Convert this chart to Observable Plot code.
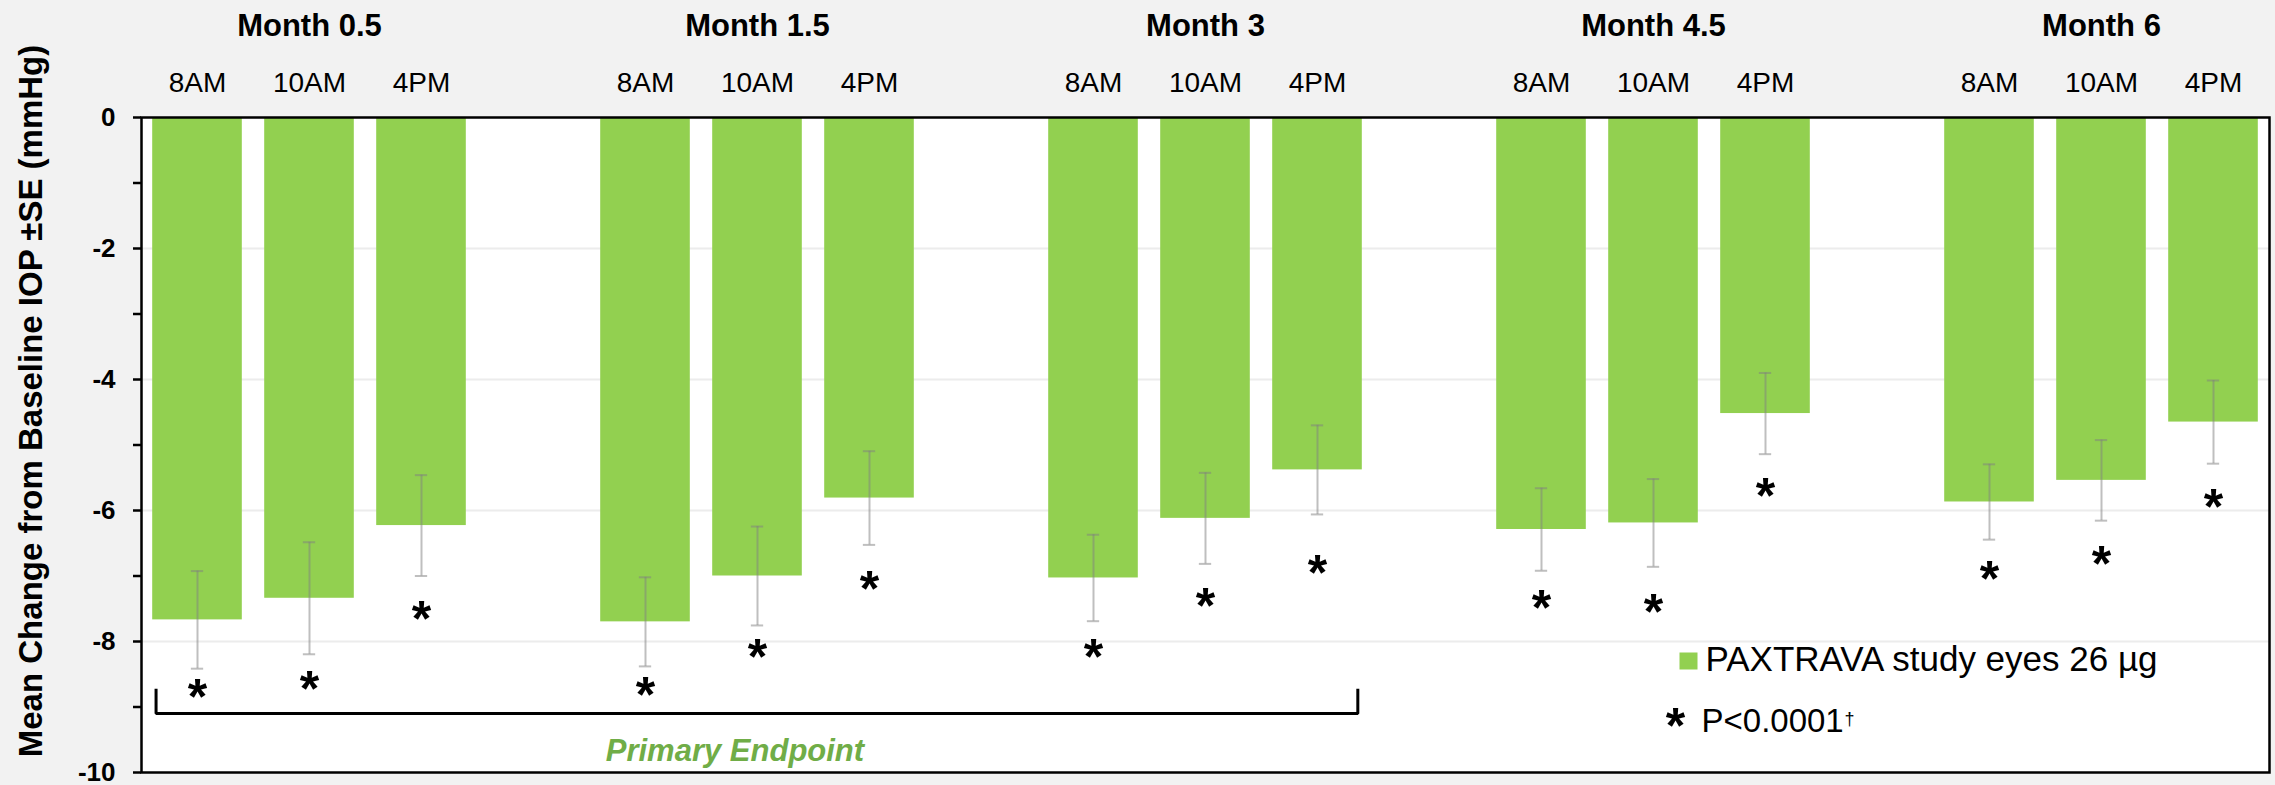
<!DOCTYPE html>
<html><head><meta charset="utf-8">
<script src="https://cdn.jsdelivr.net/npm/d3@7"></script>
<script src="https://cdn.jsdelivr.net/npm/@observablehq/plot@0.6"></script>
<style>
html,body{margin:0;padding:0;background:#f2f2f2;}
#chart svg{display:block;}
</style></head><body><div id="chart"></div>
<script>
// ---- data ----
const months = ["Month 0.5", "Month 1.5", "Month 3", "Month 4.5", "Month 6"];
const times = ["8AM", "10AM", "4PM"];
// mean change from baseline IOP (mmHg), rows = months, cols = times
const meanChange = [
  [-7.67, -7.34, -6.23],
  [-7.70, -7.00, -5.81],
  [-7.03, -6.12, -5.38],
  [-6.29, -6.19, -4.52],
  [-5.87, -5.54, -4.65]
];
// standard error
const standardError = [
  [0.745, 0.855, 0.77],
  [0.68, 0.755, 0.715],
  [0.66, 0.695, 0.68],
  [0.63, 0.67, 0.62],
  [0.575, 0.615, 0.635]
];
// level where the significance asterisk sits
const asteriskLevel = [
  [-8.70, -8.57, -7.50],
  [-8.67, -8.08, -7.04],
  [-8.09, -7.31, -6.80],
  [-7.34, -7.40, -5.62],
  [-6.90, -6.67, -5.80]
];
const yTicks = [-10, -9, -8, -7, -6, -5, -4, -3, -2, -1, 0];
const gridLevels = [-2, -4, -6, -8];
const primaryEndpointMonths = ["Month 0.5", "Month 1.5", "Month 3"];
const yLabel = "Mean Change from Baseline IOP \u00B1SE (mmHg)";
const legendLabel = "PAXTRAVA study eyes 26 \u00B5g";
const pLabel = "P<0.0001";

// ---- build table ----
const rows = [];
months.forEach((m, mi) => times.forEach((t, ti) => rows.push({
  month: m, time: t, slot: mi * 4 + ti,
  mean: meanChange[mi][ti], se: standardError[mi][ti], star: asteriskLevel[mi][ti]
})));
const slotLabel = new Map(rows.map(d => [d.slot, d.time]));

const FONT = "'Liberation Sans', Arial, sans-serif";
const green = "#92D050";
const half = 0.4, cap = 0.055;

const firstPE = months.indexOf(primaryEndpointMonths[0]) * 4;
const lastPE = months.indexOf(primaryEndpointMonths[primaryEndpointMonths.length - 1]) * 4 + 2;
const bx1 = firstPE - half + 0.03, bx2 = lastPE + half - 0.04;
const bracketTop = -8.72, bracketBottom = -9.10;
const bracket = [
  {x: bx1, y: bracketTop}, {x: bx1, y: bracketBottom},
  {x: bx2, y: bracketBottom}, {x: bx2, y: bracketTop}
];

const W = 2275, H = 785, ML = 141, MR = 6, MT = 117, MB = 13;

const chart = Plot.plot({
  width: W, height: H,
  marginLeft: ML, marginRight: MR, marginTop: MT, marginBottom: MB,
  style: {background: "#f2f2f2", fontFamily: FONT, color: "black", overflow: "visible"},
  x: {type: "linear", domain: [-0.5, 18.5]},
  y: {domain: [-10, 0]},
  marks: [
    Plot.frame({fill: "white", stroke: null}),
    Plot.ruleY(gridLevels, {stroke: "#ececec", strokeWidth: 2}),
    Plot.rect(rows, {x1: d => d.slot - half, x2: d => d.slot + half, y1: 0, y2: "mean", fill: green}),
    Plot.ruleX(rows, {x: "slot", y1: d => d.mean + d.se, y2: d => d.mean - d.se, stroke: "#808080", strokeOpacity: 0.5, strokeWidth: 2}),
    Plot.ruleY(rows, {y: d => d.mean + d.se, x1: d => d.slot - cap, x2: d => d.slot + cap, stroke: "#808080", strokeOpacity: 0.5, strokeWidth: 2}),
    Plot.ruleY(rows, {y: d => d.mean - d.se, x1: d => d.slot - cap, x2: d => d.slot + cap, stroke: "#808080", strokeOpacity: 0.5, strokeWidth: 2}),
    Plot.text(rows, {x: "slot", y: "star", text: () => "*", fontSize: 50, fontWeight: "bold", lineAnchor: "middle", dy: 11, fill: "black"}),
    Plot.line(bracket, {x: "x", y: "y", stroke: "black", strokeWidth: 3, strokeLinejoin: "miter", strokeLinecap: "butt"}),
    Plot.text(["Primary Endpoint"], {x: (bx1 + bx2) / 2, y: -9.817, dx: -22, fontSize: 31, fontWeight: "bold", fontStyle: "italic", fill: "#70AD47", lineAnchor: "bottom"}),
    Plot.axisX({anchor: "top", ticks: rows.map(d => d.slot), tickFormat: s => slotLabel.get(s) ?? "", tickSize: 0, tickPadding: 26, fontSize: 28, label: null}),
    Plot.axisY({ticks: yTicks, tickFormat: d => d % 2 === 0 ? String(d) : "", tickSize: 8, tickPadding: 18, fontSize: 26, fontWeight: "bold", strokeWidth: 2.5, label: null}),
    Plot.text(months, {x: (d, i) => i * 4 + 1, frameAnchor: "top", dy: -82, lineAnchor: "bottom", fontSize: 31, fontWeight: "bold"}),
    Plot.text([yLabel], {frameAnchor: "left", rotate: -90, dx: -109.6, dy: -44, fontSize: 33, fontWeight: "bold", lineAnchor: "middle", textAnchor: "middle"}),
    // legend
    Plot.frame({fill: green, stroke: null, insetLeft: 1679 - ML, insetRight: (W - MR) - 1697, insetTop: 652 - MT, insetBottom: (H - MB) - 669}),
    Plot.text([legendLabel], {frameAnchor: "top-left", dx: 1705 - ML, dy: 670.7 - MT, textAnchor: "start", lineAnchor: "bottom", fontSize: 35}),
    Plot.text(["*"], {frameAnchor: "top-left", dx: 1675 - ML, dy: 715 - MT + 11, textAnchor: "middle", lineAnchor: "middle", fontSize: 50, fontWeight: "bold"}),
    Plot.text([pLabel], {frameAnchor: "top-left", dx: 1701 - ML, dy: 731.5 - MT, textAnchor: "start", lineAnchor: "bottom", fontSize: 33, fill: "black"}),
    Plot.text(["\u2020"], {frameAnchor: "top-left", dx: 1844 - ML, dy: 724 - MT, textAnchor: "start", lineAnchor: "bottom", fontSize: 18, fill: "black"}),
    Plot.frame({stroke: "black", strokeWidth: 2.5})
  ]
});
document.getElementById("chart").append(chart);
</script>
</body></html>
